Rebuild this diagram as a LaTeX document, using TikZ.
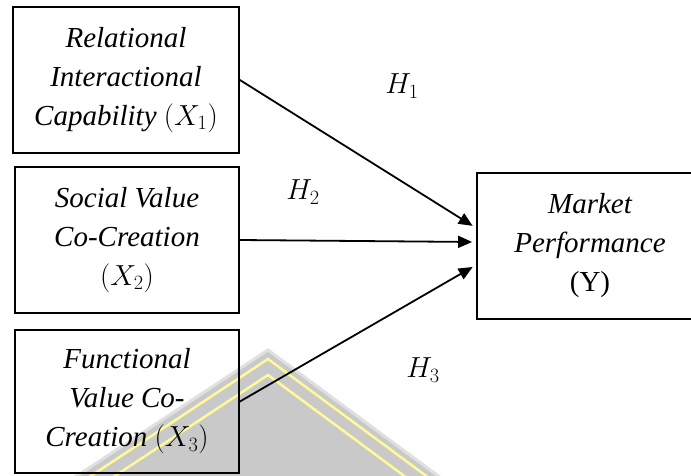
\RequirePackage{fix-cm}
\documentclass[tikz,border=0pt]{standalone}
\usepackage{fontspec}
\setmainfont{Liberation Serif}
\usetikzlibrary{arrows.meta}
\begin{document}
\begin{tikzpicture}[x=1pt,y=-1pt,>={Triangle[length=14pt,width=12pt]},line cap=round,
 var/.style={draw,line width=1.8pt,minimum width=224pt,minimum height=146pt,inner sep=0pt,align=center,font=\fontsize{29}{39}\selectfont\itshape},
 hyp/.style={font=\fontsize{29}{29}\selectfont},
 path/.style={->,line width=1.8pt,shorten >=4pt}]
\useasboundingbox (0,0) rectangle (691,475);
\fill[black!21] (48,495)--(268,350)--(464,495)--cycle;
\draw[black!12,line width=3pt] (48,495)--(268,350)--(464,495);
\draw[yellow!40,line width=2.5pt] (62,495)--(268,359)--(452,495) (86,495)--(268,375)--(430,495);
\node[var,minimum width=226pt] (x1) at (126,80) {Relational\\Interactional\\Capability $(X_1)$};
\node[var] (x2) at (127,240) {Social Value\\Co-Creation\\$(X_2)$};
\node[var,minimum height=143pt] (x3) at (127,401.5) {Functional\\Value Co-\\Creation $(X_3)$};
\node[var,minimum width=226pt] (y) at (590,246) {Market\\Performance\\\upshape(Y)};
\draw[path] (x1.east) -- ([yshift=18pt]y.west);
\draw[path] (x2.east) -- ([yshift=4pt]y.west);
\draw[path] (x3.east) -- ([yshift=-19pt]y.west);
\node[hyp] (h1) at (402,86) {$H_1$};
\node[hyp] (h2) at (303,192) {$H_2$};
\node[hyp] (h3) at (423,370) {$H_3$};
\end{tikzpicture}
\end{document}
